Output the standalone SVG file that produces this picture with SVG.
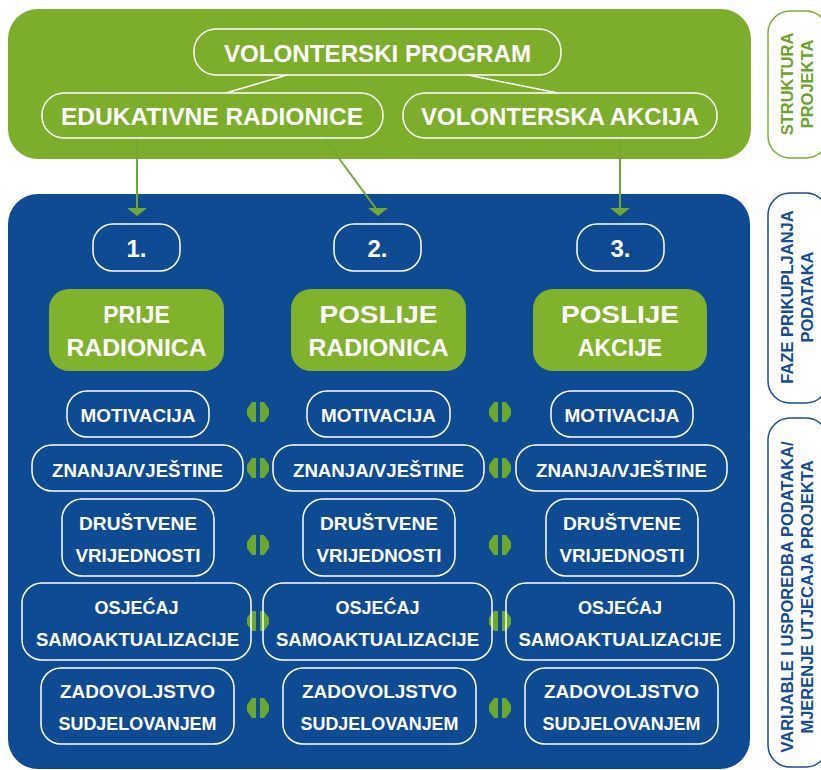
<svg xmlns="http://www.w3.org/2000/svg" width="821" height="770" viewBox="0 0 821 770">
<defs>
<style>
text{font-family:"Liberation Sans",Arial,sans-serif;font-weight:bold;text-anchor:middle;fill:#fff}
.wb{fill:none;stroke:#fff;stroke-width:1.5}
.gb{fill:#80b22b}
.t24{font-size:24px}
.t18{font-size:18px}
.t22{font-size:23px}
.side{font-size:16.5px}
.gl{stroke:#6fa832;stroke-width:2;fill:none}
.ga{fill:#6fa832}
.da{fill:#6aa82e}
</style>
<g id="dbl">
<polygon points="9,0 9,20 5,20 0,13 0,7 5,0"/>
<polygon points="13,0 17,0 22,7 22,13 17,20 13,20"/>
</g>
</defs>
<rect width="821" height="770" fill="#fff"/>
<!-- panels -->
<rect id="greenPanel" x="8" y="9" width="743" height="150" rx="30" fill="#7dae2b"/>
<rect id="bluePanel" x="8" y="194" width="742" height="575" rx="30" fill="#0f4b92"/>

<!-- right labels -->
<g id="lab1">
<rect x="768" y="11" width="60" height="147" rx="22" fill="none" stroke="#7ab030" stroke-width="1.5"/>
<text class="side" style="fill:#6aa42a" transform="translate(793,84) rotate(-90)">STRUKTURA</text>
<text class="side" style="fill:#6aa42a" transform="translate(813,84) rotate(-90)">PROJEKTA</text>
</g>
<g id="lab2">
<rect x="768" y="193" width="60" height="210" rx="22" fill="none" stroke="#1c4f9a" stroke-width="1.5"/>
<text class="side" style="fill:#154c96" transform="translate(793,297) rotate(-90)">FAZE PRIKUPLJANJA</text>
<text class="side" style="fill:#154c96" transform="translate(813,297) rotate(-90)">PODATAKA</text>
</g>
<g id="lab3">
<rect x="768" y="418" width="60" height="349" rx="22" fill="none" stroke="#1c4f9a" stroke-width="1.5"/>
<text class="side" style="fill:#154c96" transform="translate(793,597) rotate(-90)">VARIJABLE I USPOREDBA PODATAKA/</text>
<text class="side" style="fill:#154c96" transform="translate(813,597) rotate(-90)">MJERENJE UTJECAJA PROJEKTA</text>
</g>

<!-- connectors -->
<g id="connectors">
<line x1="287" y1="75" x2="226" y2="93" stroke="#fff" stroke-width="1.5"/>
<line x1="468" y1="75" x2="558" y2="93" stroke="#fff" stroke-width="1.5"/>
<line class="gl" x1="137" y1="138" x2="137" y2="210"/>
<polygon class="ga" points="127,208 147,208 137,216"/>
<line class="gl" x1="324" y1="138" x2="377" y2="210"/>
<polygon class="ga" points="368,208 388,208 378,216"/>
<line class="gl" x1="620" y1="138" x2="620" y2="210"/>
<polygon class="ga" points="610,208 630,208 620,216"/>
<g class="da">
<use href="#dbl" x="247" y="402"/>
<use href="#dbl" x="489" y="402"/>
<use href="#dbl" x="247" y="458"/>
<use href="#dbl" x="489" y="458"/>
<use href="#dbl" x="247" y="535"/>
<use href="#dbl" x="489" y="535"/>
<use href="#dbl" x="247" y="611"/>
<use href="#dbl" x="489" y="611"/>
<use href="#dbl" x="247" y="698"/>
<use href="#dbl" x="489" y="698"/>
</g>
</g>

<!-- top nodes -->
<g id="vp"><rect class="wb" x="194" y="29" width="367" height="46" rx="22"/><text class="t24" x="377.5" y="62" textLength="307" lengthAdjust="spacingAndGlyphs">VOLONTERSKI PROGRAM</text></g>
<g id="er"><rect class="wb" x="42" y="93" width="341" height="45" rx="22"/><text class="t24" x="212" y="125" textLength="302" lengthAdjust="spacingAndGlyphs">EDUKATIVNE RADIONICE</text></g>
<g id="va"><rect class="wb" x="403" y="93" width="314" height="45" rx="22"/><text class="t24" x="560" y="125" textLength="278" lengthAdjust="spacingAndGlyphs">VOLONTERSKA AKCIJA</text></g>

<!-- numbers -->
<g id="n1"><rect class="wb" x="93" y="224" width="87" height="47" rx="20"/><text class="t24" x="136.5" y="257">1.</text></g>
<g id="n2"><rect class="wb" x="334" y="224" width="87" height="47" rx="20"/><text class="t24" x="377.5" y="257">2.</text></g>
<g id="n3"><rect class="wb" x="577" y="224" width="87" height="47" rx="20"/><text class="t24" x="620.5" y="257">3.</text></g>

<!-- phase boxes -->
<g id="p1"><rect class="gb" x="49" y="289" width="175" height="82" rx="20"/><text class="t22" x="136.5" y="323">PRIJE</text><text class="t22" x="136.5" y="356" textLength="140" lengthAdjust="spacingAndGlyphs">RADIONICA</text></g>
<g id="p2"><rect class="gb" x="291" y="289" width="175" height="82" rx="20"/><text class="t22" x="378.5" y="323" textLength="118" lengthAdjust="spacingAndGlyphs">POSLIJE</text><text class="t22" x="378.5" y="356" textLength="140" lengthAdjust="spacingAndGlyphs">RADIONICA</text></g>
<g id="p3"><rect class="gb" x="533" y="289" width="174" height="82" rx="20"/><text class="t22" x="620" y="323" textLength="118" lengthAdjust="spacingAndGlyphs">POSLIJE</text><text class="t22" x="620" y="356">AKCIJE</text></g>

<!-- column 1 -->
<g id="c1mot"><rect class="wb" x="67" y="391" width="142" height="46" rx="20"/><text class="t18" x="138" y="422" textLength="115" lengthAdjust="spacingAndGlyphs">MOTIVACIJA</text></g>
<g id="c1zn"><rect class="wb" x="32" y="445" width="211" height="46" rx="20"/><text class="t18" x="137.5" y="477" textLength="171" lengthAdjust="spacingAndGlyphs">ZNANJA/VJEŠTINE</text></g>
<g id="c1dr"><rect class="wb" x="62" y="499" width="152" height="77" rx="20"/><text class="t18" x="138" y="530" textLength="118" lengthAdjust="spacingAndGlyphs">DRUŠTVENE</text><text class="t18" x="138" y="562" textLength="125" lengthAdjust="spacingAndGlyphs">VRIJEDNOSTI</text></g>
<g id="c1os"><rect class="wb" x="22" y="583" width="229" height="77" rx="20"/><text class="t18" x="136.5" y="614">OSJEĆAJ</text><text class="t18" x="137.5" y="646" textLength="203" lengthAdjust="spacingAndGlyphs">SAMOAKTUALIZACIJE</text></g>
<g id="c1za"><rect class="wb" x="41" y="668" width="193" height="76" rx="20"/><text class="t18" x="137.5" y="698" textLength="155" lengthAdjust="spacingAndGlyphs">ZADOVOLJSTVO</text><text class="t18" x="137.5" y="730" textLength="158" lengthAdjust="spacingAndGlyphs">SUDJELOVANJEM</text></g>

<!-- column 2 -->
<g id="c2mot"><rect class="wb" x="307" y="391" width="143" height="46" rx="20"/><text class="t18" x="378.5" y="422" textLength="115" lengthAdjust="spacingAndGlyphs">MOTIVACIJA</text></g>
<g id="c2zn"><rect class="wb" x="273" y="445" width="211" height="46" rx="20"/><text class="t18" x="378.5" y="477" textLength="171" lengthAdjust="spacingAndGlyphs">ZNANJA/VJEŠTINE</text></g>
<g id="c2dr"><rect class="wb" x="303" y="499" width="152" height="77" rx="20"/><text class="t18" x="379" y="530" textLength="118" lengthAdjust="spacingAndGlyphs">DRUŠTVENE</text><text class="t18" x="379" y="562" textLength="125" lengthAdjust="spacingAndGlyphs">VRIJEDNOSTI</text></g>
<g id="c2os"><rect class="wb" x="263" y="583" width="229" height="77" rx="20"/><text class="t18" x="377.5" y="614">OSJEĆAJ</text><text class="t18" x="377.5" y="646" textLength="203" lengthAdjust="spacingAndGlyphs">SAMOAKTUALIZACIJE</text></g>
<g id="c2za"><rect class="wb" x="283" y="668" width="193" height="76" rx="20"/><text class="t18" x="379.5" y="698" textLength="155" lengthAdjust="spacingAndGlyphs">ZADOVOLJSTVO</text><text class="t18" x="379.5" y="730" textLength="158" lengthAdjust="spacingAndGlyphs">SUDJELOVANJEM</text></g>

<!-- column 3 -->
<g id="c3mot"><rect class="wb" x="551" y="391" width="142" height="46" rx="20"/><text class="t18" x="622" y="422" textLength="115" lengthAdjust="spacingAndGlyphs">MOTIVACIJA</text></g>
<g id="c3zn"><rect class="wb" x="516" y="445" width="211" height="46" rx="20"/><text class="t18" x="621.5" y="477" textLength="171" lengthAdjust="spacingAndGlyphs">ZNANJA/VJEŠTINE</text></g>
<g id="c3dr"><rect class="wb" x="546" y="499" width="152" height="77" rx="20"/><text class="t18" x="622" y="530" textLength="118" lengthAdjust="spacingAndGlyphs">DRUŠTVENE</text><text class="t18" x="622" y="562" textLength="125" lengthAdjust="spacingAndGlyphs">VRIJEDNOSTI</text></g>
<g id="c3os"><rect class="wb" x="506" y="583" width="228" height="77" rx="20"/><text class="t18" x="620" y="614">OSJEĆAJ</text><text class="t18" x="620" y="646" textLength="203" lengthAdjust="spacingAndGlyphs">SAMOAKTUALIZACIJE</text></g>
<g id="c3za"><rect class="wb" x="525" y="668" width="193" height="76" rx="20"/><text class="t18" x="621.5" y="698" textLength="155" lengthAdjust="spacingAndGlyphs">ZADOVOLJSTVO</text><text class="t18" x="621.5" y="730" textLength="158" lengthAdjust="spacingAndGlyphs">SUDJELOVANJEM</text></g>
</svg>
